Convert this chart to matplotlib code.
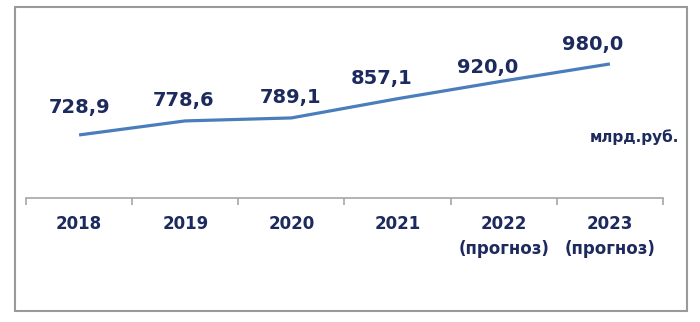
import numpy as np
import matplotlib.pyplot as plt
from matplotlib.patches import Rectangle

# Данные
years = ["2018", "2019", "2020", "2021", "2022\n(прогноз)", "2023\n(прогноз)"]
values = [728.9, 778.6, 789.1, 857.1, 920.0, 980.0]
value_labels = ["728,9", "778,6", "789,1", "857,1", "920,0", "980,0"]
unit = "млрд.руб."

# сдвиг подписей значений относительно точек (в пикселях)
label_shift = [(0, 27), (-2, 20), (-1, 20), (-16, 20), (-16, 13), (-17, 19)]

LINE_COLOR = "#4a7ebb"
TEXT_COLOR = "#1c2a5e"
GRID_COLOR = "#a6a6a6"

plt.rcParams['font.family'] = ['DejaVu Sans']

fig = plt.figure(figsize=(7.0, 3.22), dpi=100)
fig.patch.set_facecolor("white")

# рамка вокруг всей диаграммы
fig.patches.append(Rectangle((15 / 700, 11 / 322), 672 / 700, 304 / 322,
                             transform=fig.transFigure, fill=False,
                             edgecolor="#9a9a9a", linewidth=1.5))

ax = fig.add_axes([26 / 700, 124 / 322, 637 / 700, 168 / 322])
x = np.arange(len(values))
ax.plot(x, values, color=LINE_COLOR, linewidth=2.3, solid_capstyle="butt")

for xi, v, lab, (dx, dy) in zip(x, values, value_labels, label_shift):
    ax.annotate(lab, (xi, v), xytext=(dx * 0.72, dy * 0.72),
                textcoords="offset points",
                ha="center", va="center", fontsize=14, fontweight="bold",
                color=TEXT_COLOR)

ax.set_xlim(-0.5, len(values) - 0.5)
ax.set_ylim(506, 1100)

for side in ["top", "right", "left"]:
    ax.spines[side].set_visible(False)
ax.spines["bottom"].set_color(GRID_COLOR)
ax.spines["bottom"].set_linewidth(1.2)
ax.set_yticks([])

ax.set_xticks(x)
ax.set_xticklabels(years, fontsize=12, fontweight="bold", color=TEXT_COLOR,
                   linespacing=1.55)
ax.tick_params(axis="x", which="major", length=0, pad=12)
ax.set_xticks(np.arange(len(values) + 1) - 0.5, minor=True)
ax.tick_params(axis="x", which="minor", length=5, color=GRID_COLOR, width=1.2)

ax.text(679 / 700, 185 / 322, unit, transform=fig.transFigure,
        ha="right", va="center", fontsize=11, fontweight="bold",
        color=TEXT_COLOR)

fig.savefig("out.png", dpi=100, facecolor="white")
